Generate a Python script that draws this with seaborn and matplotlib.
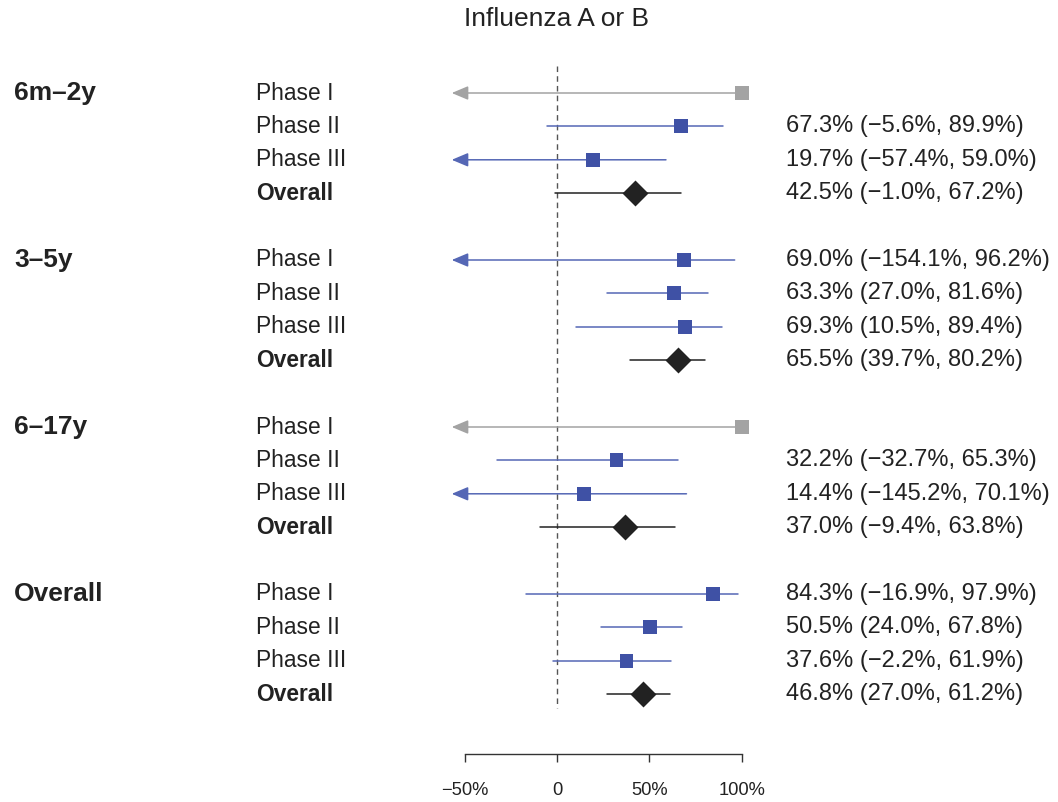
import numpy as np
import pandas as pd
import matplotlib
matplotlib.use("Agg")
import matplotlib.pyplot as plt
import seaborn as sns

# ---------------- data ----------------
groups = ["6m\u20132y", "3\u20135y", "6\u201317y", "Overall"]
phases = ["Phase I", "Phase II", "Phase III", "Overall"]
estimate = [[100.0, 67.3, 19.7, 42.5],
            [69.0, 63.3, 69.3, 65.5],
            [100.0, 32.2, 14.4, 37.0],
            [84.3, 50.5, 37.6, 46.8]]
lower = [[np.nan, -5.6, -57.4, -1.0],
         [-154.1, 27.0, 10.5, 39.7],
         [np.nan, -32.7, -145.2, -9.4],
         [-16.9, 24.0, -2.2, 27.0]]
upper = [[100.0, 89.9, 59.0, 67.2],
         [96.2, 81.6, 89.4, 80.2],
         [100.0, 65.3, 70.1, 63.8],
         [97.9, 67.8, 61.9, 61.2]]
estimable = [[False, True, True, True],
             [True, True, True, True],
             [False, True, True, True],
             [True, True, True, True]]
tick_values = [-50, 0, 50, 100]
tick_labels = ["\u221250%", "0", "50%", "100%"]
title = "Influenza A or B"

# ---------------- layout helpers ----------------
W, H = 1058, 802
X0PIX, PX_PER = 557.0, 1.847      # pixel of 0%, pixels per 1%
Y0PIX, ROWPIX = 93.0, 33.4        # pixel of first row, pixels per row
def dx(p):
    return (p - X0PIX) / PX_PER
def dy(p):
    return (p - Y0PIX) / ROWPIX

BLUE = "#3f51a5"
BLUE_LINE = "#5567b5"
GRAY = "#a3a3a3"
BLACK = "#222222"
CLIP = -57.0

rows = []
for g, grp in enumerate(groups):
    for i, ph in enumerate(phases):
        kind = "overall" if ph == "Overall" else ("gray" if not estimable[g][i] else "phase")
        rows.append(dict(group=grp, phase=ph, pos=g * 5 + i, est=estimate[g][i],
                         lo=lower[g][i], hi=upper[g][i], kind=kind,
                         ok=estimable[g][i]))
df = pd.DataFrame(rows)

sns.set_theme(style="white")
plt.rcParams["font.family"] = ["Liberation Sans", "DejaVu Sans"]

fig = plt.figure(figsize=(W / 100, H / 100), dpi=100)
ax = fig.add_axes([0, 0, 1, 1])
ax.set_xlim(dx(0), dx(W))
ax.set_ylim(dy(H), dy(0))

# reference line at 0
ax.plot([0, 0], [dy(66), dy(708)], color="#555555", lw=1.0, ls=(0, (4, 3)), zorder=1)

# CI lines
for _, r in df.iterrows():
    col = {"gray": GRAY, "phase": BLUE_LINE, "overall": BLACK}[r.kind]
    lo = r.lo
    if np.isnan(lo) or lo < CLIP:
        ax.annotate("", xy=(CLIP, r.pos), xytext=(r.hi, r.pos),
                    arrowprops=dict(arrowstyle="-|>,head_length=1.0,head_width=0.42",
                                    color=col, lw=1.1, shrinkA=0, shrinkB=0,
                                    mutation_scale=10), zorder=2)
    else:
        ax.plot([lo, r.hi], [r.pos, r.pos], color=col, lw=1.1, zorder=2)

# point estimates
sq = df[df.kind != "overall"]
sns.scatterplot(data=sq, x="est", y="pos", hue="kind",
                palette={"phase": BLUE, "gray": GRAY}, marker="s", s=100,
                linewidth=0, legend=False, ax=ax, zorder=3)
ov = df[df.kind == "overall"]
sns.scatterplot(data=ov, x="est", y="pos", color=BLACK, marker="D", s=175,
                linewidth=0, legend=False, ax=ax, zorder=3)

# texts
FS_PH = 16.4
FS_VAL = 17.0
for g, grp in enumerate(groups):
    ax.text(dx(14), g * 5, grp, fontsize=19, fontweight="bold", color="#222222",
            ha="left", va="center")
for _, r in df.iterrows():
    ax.text(dx(256), r.pos, r.phase, fontsize=FS_PH, color="#222222", ha="left", va="center",
            fontweight="bold" if r.phase == "Overall" else "normal")
    if r.ok:
        s = "{:.1f}% ({:.1f}%, {:.1f}%)".format(r.est, r.lo, r.hi).replace("-", "\u2212")
        ax.text(dx(786), r.pos, s, fontsize=FS_VAL, color="#222222", ha="left", va="center")

ax.text(0, dy(19), title, fontsize=19, color="#222222", ha="center", va="center")

# axis
for sp in ["top", "right", "left"]:
    ax.spines[sp].set_visible(False)
ax.spines["bottom"].set_position(("data", dy(754)))
ax.spines["bottom"].set_bounds(-50, 100)
ax.spines["bottom"].set_color("#333333")
ax.spines["bottom"].set_linewidth(1.0)
ax.set_xticks(tick_values)
ax.set_xticklabels(tick_labels)
ax.tick_params(axis="x", direction="out", length=6, width=1.0, color="#333333",
               pad=14, labelsize=13.2, labelcolor="#222222", bottom=True)
ax.set_yticks([])
ax.set_xlabel("")
ax.set_ylabel("")
ax.xaxis.label.set_visible(False)
ax.yaxis.label.set_visible(False)
ax.grid(False)

fig.savefig("out.png", dpi=100)
